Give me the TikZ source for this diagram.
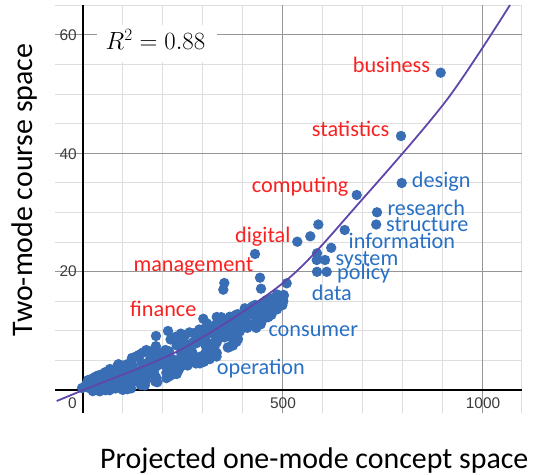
\documentclass[tikz,border=0pt]{standalone}
\usepackage[no-math]{fontspec}
\setmainfont{Carlito}
\newfontfamily\tickfont{Liberation Sans}
\definecolor{dotblue}{RGB}{58,110,180}
\definecolor{lblblue}{RGB}{40,112,196}
\definecolor{lblred}{RGB}{250,32,32}
\definecolor{fitpurple}{RGB}{96,70,170}
\definecolor{gridminor}{RGB}{222,222,222}
\definecolor{gridmajor}{RGB}{150,150,150}
\definecolor{ticktext}{RGB}{60,60,60}
\tikzset{
  gridminorline/.style={draw=gridminor, line width=0.9bp},
  gridmajorline/.style={draw=gridmajor, line width=1bp},
  axisline/.style={draw=black, line width=1.6bp},
  dotmark/.style={fill=dotblue},
  fitline/.style={draw=fitpurple, line width=1.8bp},
  wordlbl/.style={font=\fontsize{22.3}{24}\selectfont, anchor=base west, inner sep=0pt},
  redlbl/.style={wordlbl, text=lblred},
  bluelbl/.style={wordlbl, text=lblblue},
  ticklbl/.style={text=ticktext, font=\tickfont\fontsize{15.5}{16}\selectfont, inner sep=0pt},
  axtitle/.style={font=\fontsize{30}{32}\selectfont, inner sep=0pt, anchor=base}
}
\begin{document}
\begin{tikzpicture}[x=1bp, y=-1bp]
\useasboundingbox (0,0) rectangle (537,475);
% minor grid
\foreach \v in {5,10,15,25,30,35,45,50,55,65}{
  \draw[gridminorline] (55,390-5.917*\v) -- (522,390-5.917*\v);
}
\foreach \X in {100,200,300,400,600,700,800,900,1100}{
  \draw[gridminorline] (83+0.399*\X,5) -- (83+0.399*\X,413);
}
% major grid
\foreach \v in {20,40,60}{
  \draw[gridmajorline] (55,390-5.917*\v) -- (522,390-5.917*\v);
}
\foreach \X in {500,1000}{
  \draw[gridmajorline] (83+0.399*\X,5) -- (83+0.399*\X,413);
}
% axes
\coordinate (ytop) at (83,5);
\coordinate (ybot) at (83,413);
\coordinate (xleft) at (55,390);
\coordinate (xright) at (522,390);
\draw[axisline] (ytop) -- (ybot);
\draw[axisline] (xleft) -- (xright);
% tick labels
\node[ticklbl, anchor=east] (t60) at (77,35) {60};
\node[ticklbl, anchor=east] (t40) at (77,154) {40};
\node[ticklbl, anchor=east] (t20) at (77,271.5) {20};
\node[ticklbl] (t0) at (72.5,403.5) {0};
\node[ticklbl] (t500) at (283,403.5) {500};
\node[ticklbl] (t1000) at (483,403.5) {1000};
% R^2 box
\fill[white] (97,25) rectangle (217,62);
\node[anchor=base west, inner sep=0pt, font=\fontsize{23.5}{25}\selectfont] (rsq) at (105.5,49.5) {$R^2 = 0.88$};
% dense cluster
\pgfmathsetseed{4242}
\foreach \i in {1,...,380}{
  \pgfmathsetmacro{\xx}{86+198*rnd}
  \pgfmathsetmacro{\cc}{386.5-0.44*(\xx-85)+0.001*(\xx-85)*(285-\xx)}
  \pgfmathsetmacro{\ww}{4+17*sin(0.857143*(\xx-80))}
  \pgfmathsetmacro{\yy}{\cc+\ww*(2*rnd-1)}
  \fill[dotmark] (\xx,\yy) circle (5.2bp);
}
% isolated points
\foreach \p in {(440.7,72.7),(401,136),(401.7,183),(356.7,195),(377,212.3),(376.2,224.5),
  (318.3,224.5),(344.7,230),(310.3,236.3),(297.3,241.7),(255,254),(331.2,247.8),
  (317,253.3),(316.7,260),(325,260),(317,271.8),(326.7,271.8),(260,277.7),
  (224.3,283),(223.3,289.7),(286.7,283.3),(261,288.7),(277,294.5),(203.3,318.8),
  (216.7,317),(266.7,301.7),(261.7,305),(185,335),(168,331),(156,336),(87,385),(82,388)}{
  \fill[dotmark] \p circle (5.2bp);
}
% fitted curve
\draw[fitline] plot[smooth] coordinates {(56.7,401) (83.3,390) (183.3,348.3) (286.7,280) (361.7,200) (446.7,100) (510,5)};
% word labels
\node[redlbl] (lbusiness) at (352.7,72.5) {business};
\node[redlbl] (lstatistics) at (311.7,137) {statistics};
\node[redlbl] (lcomputing) at (251.7,193) {computing};
\node[redlbl] (ldigital) at (235,242.5) {digital};
\node[redlbl] (lmanagement) at (133.3,271.5) {management};
\node[redlbl] (lfinance) at (130,316) {finance};
\node[bluelbl] (ldesign) at (411.7,187.5) {design};
\node[bluelbl] (lresearch) at (387.3,216) {research};
\node[bluelbl] (lstructure) at (386,231.5) {structure};
\node[bluelbl] (linformation) at (348.5,249) {information};
\node[bluelbl] (lsystem) at (335.5,265.5) {system};
\node[bluelbl] (lpolicy) at (337,279) {policy};
\node[bluelbl] (ldata) at (311.7,300) {data};
\node[bluelbl] (lconsumer) at (268.3,336.5) {consumer};
\node[bluelbl] (loperation) at (216.7,374) {operation};
% axis titles
\node[axtitle, anchor=base west] (xtitle) at (100,468) {Projected one-mode concept space};
\node[axtitle, rotate=90] (ytitle) at (32,190) {Two-mode course space};
\end{tikzpicture}
\end{document}
